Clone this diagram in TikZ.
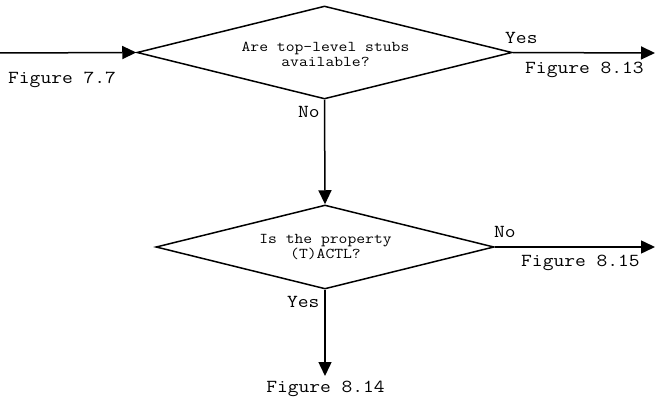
\documentclass[tikz,border=0pt]{standalone}
\usepackage{fontspec}
\usepackage{graphicx}
\usetikzlibrary{shapes.geometric,arrows.meta}
% typewriter text, widened a little
\newcommand{\wtt}[1]{\scalebox{1.143}[1]{#1}}
\begin{document}
\begin{tikzpicture}[x=1pt,y=-1pt,
  decision/.style={draw,shape=diamond,line width=1.5pt,inner sep=0pt,aspect=4},
  flow/.style={line width=1.5pt,-{Triangle[length=14pt,width=13pt]}},
  qtext/.style={font=\fontsize{15}{15}\selectfont\ttfamily,align=center,inner sep=0pt},
  lbl/.style={font=\fontsize{18.3}{20}\selectfont\ttfamily,inner sep=0pt}]
\useasboundingbox (0,0) rectangle (655,396);

% decision boxes
\node[decision,minimum width=375pt,minimum height=93pt] (d1) at (324.5,52.5) {};
\node[decision,minimum width=338pt,minimum height=84pt] (d2) at (325,247) {};

% questions
\node[qtext] (q1) at (325.5,54) {\wtt{Are top-level stubs}\\\wtt{available?}};
\node[qtext] (q2) at (325.5,247.5) {\wtt{Is the property}\\\wtt{(T)ACTL?}};

% free ends of the connectors
\coordinate (in) at (0,53);
\coordinate (out1) at (655,53);
\coordinate (out2) at (655,247);
\coordinate (out3) at (325,376);

% connectors
\draw[flow] (in) -- (d1.west);
\draw[flow] (d1.east) -- (out1);
\draw[flow] (d1.south) -- (d2.north);
\draw[flow] (d2.east) -- (out2);
\draw[flow] (d2.south) -- (out3);

% labels
\node[lbl,anchor=base west] (f77) at (8,83) {\wtt{Figure 7.7}};
\node[lbl,anchor=base west] (yes1) at (505,44) {\wtt{Yes}};
\node[lbl,anchor=base west] (f813) at (525,74) {\wtt{Figure 8.13}};
\node[lbl,anchor=base west] (no1) at (298,117) {\wtt{No}};
\node[lbl,anchor=base west] (no2) at (494,237) {\wtt{No}};
\node[lbl,anchor=base west] (f815) at (521,266) {\wtt{Figure 8.15}};
\node[lbl,anchor=base west] (yes2) at (287,307) {\wtt{Yes}};
\node[lbl,anchor=base] (f814) at (325.5,392) {\wtt{Figure 8.14}};
\end{tikzpicture}
\end{document}
